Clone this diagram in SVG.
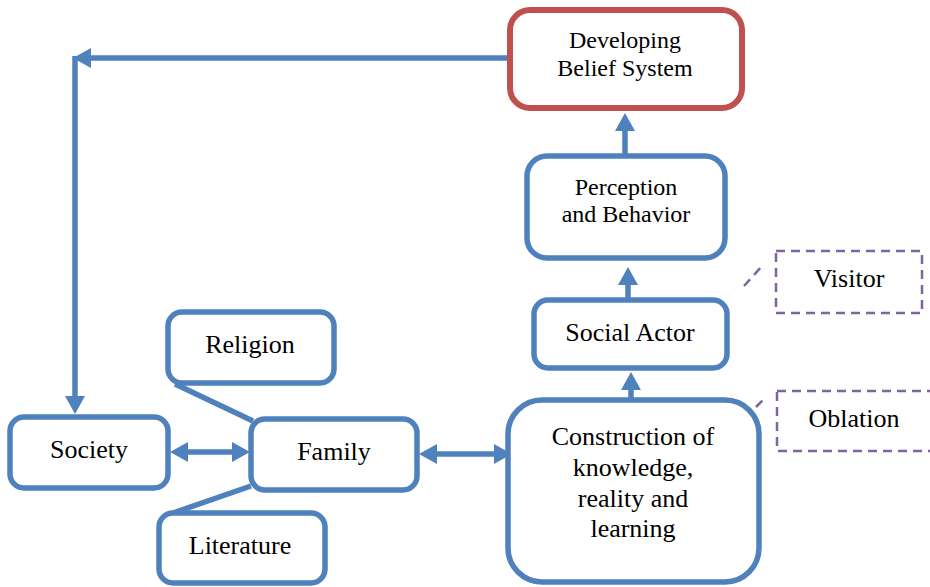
<svg xmlns="http://www.w3.org/2000/svg" width="930" height="587" viewBox="0 0 930 587">
  <style>
    .box { fill: #ffffff; stroke: #4F81BD; stroke-width: 5.5; }
    .goal { fill: #ffffff; stroke: #C0504D; stroke-width: 6; }
    .note { fill: none; stroke: #8064A2; stroke-width: 2.5; stroke-dasharray: 9 6; }
    .link { fill: none; stroke: #4F81BD; stroke-width: 5.5; }
    .dash { fill: none; stroke: #8064A2; stroke-width: 2.5; stroke-dasharray: 9 6; }
    text { font-family: "Liberation Serif", "Times New Roman", serif; fill: #000000; text-anchor: middle; }
    .t26 { font-size: 26px; }
    .t24 { font-size: 24px; }
  </style>
  <defs>
    <marker id="head" viewBox="0 0 18 20" refX="8" refY="10" markerWidth="18" markerHeight="20" markerUnits="userSpaceOnUse" orient="auto-start-reverse">
      <path d="M0,0 L18,10 L0,20 Z" fill="#4F81BD"/>
    </marker>
  </defs>

  <g id="connectors">
    <path class="link" d="M508,58 L83,58" marker-end="url(#head)"/>
    <path class="link" d="M75,56 L75,404" marker-end="url(#head)"/>
    <path class="link" d="M180,452 L240,452" marker-start="url(#head)" marker-end="url(#head)"/>
    <path class="link" d="M429,454 L502,454" marker-start="url(#head)" marker-end="url(#head)"/>
    <path class="link" d="M631,399 L631,382" marker-end="url(#head)"/>
    <path class="link" d="M628,299 L628,277" marker-end="url(#head)"/>
    <path class="link" d="M625,155 L625,123" marker-end="url(#head)"/>
    <path class="link" d="M175,384 L253,421"/>
    <path class="link" d="M251,486 L173,513"/>
    <path class="dash" d="M744,286 L763,265"/>
    <path class="dash" d="M756,407 L766,397"/>
  </g>

  <g id="developing">
    <rect class="goal" x="510" y="10" width="232" height="98" rx="20"/>
    <text class="t24" x="625" y="48">Developing</text>
    <text class="t24" x="625" y="76">Belief System</text>
  </g>

  <g id="perception">
    <rect class="box" x="527" y="156" width="198" height="102" rx="20"/>
    <text class="t24" x="626" y="195">Perception</text>
    <text class="t24" x="626" y="222">and Behavior</text>
  </g>

  <g id="social-actor">
    <rect class="box" x="534" y="300" width="193" height="68" rx="14"/>
    <text class="t26" x="630" y="341">Social Actor</text>
  </g>

  <g id="construction">
    <rect class="box" x="508" y="400" width="251" height="182" rx="34"/>
    <text class="t26" x="633" y="445">Construction of</text>
    <text class="t26" x="633" y="476">knowledge,</text>
    <text class="t26" x="633" y="507">reality and</text>
    <text class="t26" x="633" y="537">learning</text>
  </g>

  <g id="visitor">
    <rect class="note" x="776" y="251" width="146" height="62"/>
    <text class="t26" x="849" y="287">Visitor</text>
  </g>

  <g id="oblation">
    <rect class="note" x="777" y="391" width="170" height="60"/>
    <text class="t26" x="854" y="427">Oblation</text>
  </g>

  <g id="society">
    <rect class="box" x="10" y="417" width="158" height="71" rx="14"/>
    <text class="t26" x="89" y="458">Society</text>
  </g>

  <g id="family">
    <rect class="box" x="251" y="419" width="166" height="71" rx="14"/>
    <text class="t26" x="334" y="460">Family</text>
  </g>

  <g id="religion">
    <rect class="box" x="168" y="312" width="166" height="71" rx="14"/>
    <text class="t26" x="250" y="353">Religion</text>
  </g>

  <g id="literature">
    <rect class="box" x="159" y="513" width="166" height="70" rx="14"/>
    <text class="t26" x="240" y="554">Literature</text>
  </g>
</svg>
